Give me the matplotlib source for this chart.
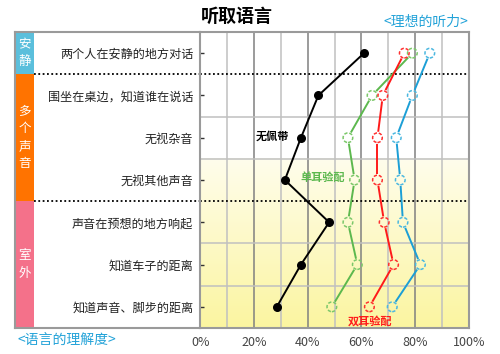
import numpy as np
import matplotlib
matplotlib.use("Agg")
import matplotlib.pyplot as plt

plt.rcParams['font.family'] = ['Noto Sans CJK SC', 'DejaVu Sans']

#%% data (percent of speech understood)
situations = ["两个人在安静的地方对话", "围坐在桌边，知道谁在说话", "无视杂音", "无视其他声音",
              "声音在预想的地方响起", "知道车子的距离", "知道声音、脚步的距离"]
groups = ["安\n静", "多\n个\n声\n音", "室\n外"]
group_rows = [(0, 0), (1, 3), (4, 6)]
group_colors = ["#5bbfdc", "#ff7300", "#f4718a"]

no_aid = [61, 44, 37.5, 31.5, 48, 37.5, 28.5]
one_ear = [79, 64, 55, 57.5, 55, 58.5, 49]
two_ears = [76, 68, 66, 66, 68.5, 72, 63]
ideal = [85.5, 79, 73, 74.5, 75.5, 82, 71.5]

xticks = [0, 20, 40, 60, 80, 100]
xtick_labels = ["0%", "20%", "40%", "60%", "80%", "100%"]

rows = np.arange(len(situations))

#%% layout
W, H = 500, 354
fig = plt.figure(figsize=(W / 100, H / 100), dpi=100)
left, right, top, bottom = 200.3, 468.7, 32, 328
ax_pos = [left / W, 1 - bottom / H, (right - left) / W, (bottom - top) / H]
ax_t = fig.add_axes([15 / W, ax_pos[1], (left - 15) / W, ax_pos[3]])
ax = fig.add_axes(ax_pos)

ylim = (len(situations) - 0.5, -0.5)
frame = "#9a9a9a"

# left table
ax_t.set_xlim(0, 1)
ax_t.set_ylim(*ylim)
ax_t.set_xticks([])
ax_t.set_yticks([])
for s in ax_t.spines.values():
    s.set_color(frame)
    s.set_linewidth(1.5)
ax_t.spines['right'].set_visible(False)
band_w = 19 / (left - 15)
for name, (r0, r1), c in zip(groups, group_rows, group_colors):
    ax_t.bar(0, r1 - r0 + 1, width=band_w, bottom=r0 - 0.5, align='edge', color=c, zorder=2)
    ax_t.text(band_w / 2, (r0 + r1) / 2, name, color="white", fontsize=9,
              ha='center', va='center', linespacing=1.45, zorder=3)
for r0, r1 in group_rows[1:]:
    ax_t.plot([band_w, 1], [r0 - 0.5] * 2, color="black", lw=1.3, ls=(0, (1, 1.4)), zorder=3)

# main plot
ax.set_xlim(0, 100)
ax.set_ylim(*ylim)
grad = np.linspace(0, 1, 256).reshape(-1, 1)
cmap = matplotlib.colors.LinearSegmentedColormap.from_list("y", ["#fffdec", "#fbf5a0"])
ax.imshow(grad, cmap=cmap, aspect='auto', extent=(0, 100, 6.5, 2.5), zorder=0)
ax.set_xlim(0, 100)
ax.set_ylim(*ylim)

for v in range(10, 100, 10):
    c = "#808080" if v % 20 == 0 else "#c0c0c0"
    ax.axvline(v, color=c, lw=1.1, zorder=1)
for r in rows[:-1]:
    if r + 1 in (g[0] for g in group_rows):
        ax.axhline(r + 0.5, color="black", lw=1.3, ls=(0, (1, 1.4)), zorder=2)
    else:
        ax.axhline(r + 0.5, color="#c0c0c0", lw=1.1, zorder=1)

for s in ax.spines.values():
    s.set_color(frame)
    s.set_linewidth(1.5)

ax.set_yticks(rows, situations, fontsize=8.7, color="#222222")
ax.tick_params(axis='y', direction='in', length=3, width=1, color="#333333", pad=5)
ax.set_xticks(xticks, xtick_labels, fontsize=9, color="#444444")
ax.tick_params(axis='x', length=0, pad=6)


def draw_series(x, color, gap, lw=1.4):
    pts = ax.transData.transform(np.column_stack([x, rows]))
    inv = ax.transData.inverted()
    for p, q in zip(pts[:-1], pts[1:]):
        d = q - p
        u = d / np.hypot(*d)
        seg = inv.transform([p + u * gap, q - u * gap])
        ax.plot(seg[:, 0], seg[:, 1], color=color, lw=lw, zorder=4, solid_capstyle='butt')


draw_series(no_aid, "black", 0)
ax.scatter(no_aid, rows, s=30, color="black", zorder=5)

for vals, lc, mc in [(one_ear, "#5cb84e", "#7cc86a"), (two_ears, "#ff1a1a", "#ff3030"),
                     (ideal, "#1c9fd6", "#4cb8e0")]:
    draw_series(vals, lc, 6)
    ax.scatter(vals, rows, s=48, facecolors='none', edgecolors=mc, linewidths=1.1,
               linestyle=(0, (2.2, 1.2)), zorder=5)

ax.text(27, 1.96, "无佩带", color="black", fontsize=8, fontweight='bold', ha='center', va='center', zorder=6)
ax.text(45.7, 2.95, "单耳验配", color="#5cb84e", fontsize=8, fontweight='bold', ha='center', va='center', zorder=6)
ax.text(63.4, 6.33, "双耳验配", color="#ff1a1a", fontsize=8, fontweight='bold', ha='center', va='center', zorder=6)

fig.text(236.7 / W, 1 - 16.5 / H, "听取语言", fontsize=13, fontweight='bold', ha='center', va='center')
fig.text(right / W, 1 - 22 / H, "<理想的听力>", fontsize=10, color="#22a2d8", ha='right', va='center')
fig.text(18 / W, 1 - 340 / H, "<语言的理解度>", fontsize=10, color="#22a2d8", ha='left', va='center')

fig.savefig("out.png", dpi=100)
